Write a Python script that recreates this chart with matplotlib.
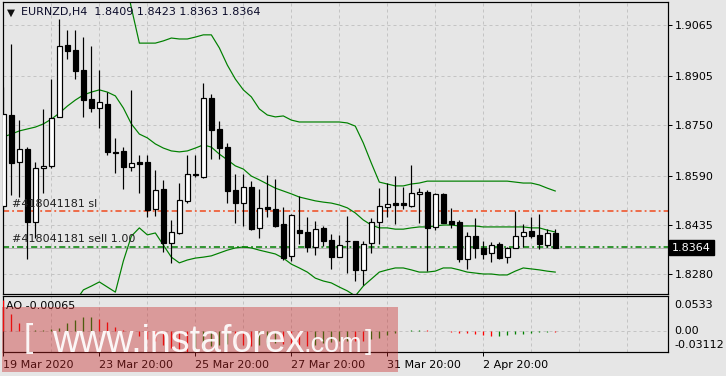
import matplotlib
matplotlib.use("Agg")
import matplotlib.pyplot as plt
from matplotlib.patches import Rectangle
import numpy as np

# EURNZD H4 candles
opens = [1.8495, 1.8781, 1.8633, 1.8674, 1.8445, 1.8614, 1.8621, 1.8775, 1.9001, 1.8985,
         1.8923, 1.8831, 1.8803, 1.8816, 1.8665, 1.8668, 1.8617, 1.8633, 1.8633, 1.8485,
         1.8548, 1.8379, 1.8410, 1.8511, 1.8596, 1.8586, 1.8835, 1.8737, 1.8680, 1.8545,
         1.8504, 1.8555, 1.8426, 1.8492, 1.8485, 1.8438, 1.8338, 1.8419, 1.8413, 1.8366,
         1.8426, 1.8388, 1.8334, 1.8385, 1.8385, 1.8294, 1.8379, 1.8445, 1.8492, 1.8504,
         1.8504, 1.8495, 1.8533, 1.8539, 1.8429, 1.8533, 1.8448, 1.8445, 1.8328, 1.8400,
         1.8363, 1.8347, 1.8375, 1.8334, 1.8363, 1.8400, 1.8416, 1.8404, 1.8372, 1.8409]
highs = [1.8869, 1.9004, 1.8765, 1.8680, 1.8633, 1.8800, 1.8894, 1.9083, 1.9048, 1.9048,
         1.9026, 1.8998, 1.8923, 1.8853, 1.8709, 1.8680, 1.8860, 1.8655, 1.8655, 1.8608,
         1.8577, 1.8451, 1.8567, 1.8655, 1.8655, 1.8882, 1.8847, 1.8762, 1.8693, 1.8596,
         1.8596, 1.8573, 1.8548, 1.8592, 1.8580, 1.8492, 1.8470, 1.8526, 1.8460, 1.8448,
         1.8432, 1.8407, 1.8404, 1.8463, 1.8386, 1.8385, 1.8457, 1.8551, 1.8567, 1.8589,
         1.8555, 1.8624, 1.8551, 1.8545, 1.8535, 1.8535, 1.8489, 1.8451, 1.8413, 1.8457,
         1.8385, 1.8382, 1.8382, 1.8366, 1.8479, 1.8438, 1.8460, 1.8470, 1.8422, 1.8423]
lows = [1.8482, 1.8529, 1.8523, 1.8328, 1.8394, 1.8536, 1.8614, 1.8775, 1.8957, 1.8894,
        1.8775, 1.8790, 1.8740, 1.8655, 1.8599, 1.8548, 1.8605, 1.8536, 1.8460, 1.8463,
        1.8350, 1.8316, 1.8407, 1.8504, 1.8586, 1.8583, 1.8643, 1.8643, 1.8504, 1.8441,
        1.8432, 1.8419, 1.8394, 1.8460, 1.8430, 1.8325, 1.8322, 1.8375, 1.8350, 1.8341,
        1.8369, 1.8297, 1.8334, 1.8284, 1.8259, 1.8246, 1.8347, 1.8375, 1.8460, 1.8438,
        1.8485, 1.8492, 1.8441, 1.8290, 1.8419, 1.8440, 1.8426, 1.8319, 1.8297, 1.8331,
        1.8328, 1.8319, 1.8328, 1.8316, 1.8363, 1.8366, 1.8394, 1.8360, 1.8366, 1.8363]
closes = [1.8784, 1.8630, 1.8674, 1.8445, 1.8614, 1.8621, 1.8772, 1.8998, 1.8982, 1.8919,
          1.8828, 1.8803, 1.8822, 1.8665, 1.8663, 1.8617, 1.8630, 1.8627, 1.8482, 1.8545,
          1.8379, 1.8413, 1.8514, 1.8596, 1.8592, 1.8835, 1.8734, 1.8677, 1.8542, 1.8504,
          1.8555, 1.8422, 1.8489, 1.8485, 1.8432, 1.8331, 1.8466, 1.8410, 1.8366, 1.8422,
          1.8385, 1.8334, 1.8372, 1.8384, 1.8294, 1.8375, 1.8445, 1.8495, 1.8501, 1.8498,
          1.8498, 1.8536, 1.8539, 1.8426, 1.8533, 1.8441, 1.8438, 1.8328, 1.8400, 1.8363,
          1.8344, 1.8372, 1.8331, 1.8363, 1.8400, 1.8413, 1.8400, 1.8375, 1.8410, 1.8364]

# Bollinger bands as drawn (upper band starts at candle 15, above the window before that)
bb_upper_start = 15
bb_upper = [1.9237, 1.9118, 1.9007, 1.9007, 1.9007, 1.9014, 1.9023, 1.9020, 1.9020, 1.9026,
            1.9033, 1.9033, 1.8992, 1.8938, 1.8894, 1.8860, 1.8838, 1.8800, 1.8781, 1.8775,
            1.8778, 1.8765, 1.8759, 1.8759, 1.8759, 1.8759, 1.8759, 1.8759, 1.8756, 1.8746,
            1.8693, 1.8630, 1.8570, 1.8564, 1.8558, 1.8558, 1.8564, 1.8567, 1.8573, 1.8573,
            1.8573, 1.8573, 1.8573, 1.8573, 1.8573, 1.8573, 1.8573, 1.8573, 1.8573, 1.8570,
            1.8567, 1.8567, 1.8561, 1.8551, 1.8542]
bb_middle = [1.8712, 1.8721, 1.8731, 1.8737, 1.8743, 1.8753, 1.8768, 1.8787, 1.8809, 1.8828,
             1.8844, 1.8853, 1.8860, 1.8853, 1.8841, 1.8803, 1.8753, 1.8721, 1.8709, 1.8690,
             1.8677, 1.8668, 1.8665, 1.8668, 1.8677, 1.8687, 1.8680, 1.8658, 1.8640, 1.8621,
             1.8611, 1.8589, 1.8577, 1.8564, 1.8551, 1.8542, 1.8533, 1.8523, 1.8517, 1.8511,
             1.8507, 1.8504, 1.8498, 1.8489, 1.8473, 1.8451, 1.8435, 1.8426, 1.8426, 1.8422,
             1.8422, 1.8426, 1.8429, 1.8429, 1.8432, 1.8435, 1.8435, 1.8432, 1.8432, 1.8432,
             1.8429, 1.8429, 1.8429, 1.8429, 1.8429, 1.8429, 1.8426, 1.8426, 1.8419, 1.8413]
bb_lower = [1.8120, 1.8110, 1.8100, 1.8095, 1.8090, 1.8095, 1.8110, 1.8130, 1.8160, 1.8195,
            1.8231, 1.8243, 1.8256, 1.8240, 1.8224, 1.8322, 1.8400, 1.8426, 1.8404, 1.8410,
            1.8372, 1.8334, 1.8316, 1.8325, 1.8331, 1.8334, 1.8338, 1.8347, 1.8356, 1.8363,
            1.8366, 1.8363, 1.8356, 1.8350, 1.8344, 1.8331, 1.8312, 1.8300, 1.8287, 1.8268,
            1.8259, 1.8253, 1.8240, 1.8228, 1.8212, 1.8243, 1.8265, 1.8287, 1.8294, 1.8300,
            1.8300, 1.8294, 1.8287, 1.8287, 1.8290, 1.8300, 1.8300, 1.8294, 1.8287, 1.8284,
            1.8281, 1.8281, 1.8278, 1.8278, 1.8290, 1.8300, 1.8297, 1.8294, 1.8290, 1.8287]

# Awesome Oscillator
ao = [0.0470, 0.0262, 0.0127, 0.0015, 0.0020, 0.0025, 0.0035, 0.0045, 0.0127, 0.0172,
      0.0217, 0.0222, 0.0187, 0.0142, 0.0070, 0.0020, -0.0030, -0.0070, -0.0110, -0.0150,
      -0.0200, -0.0250, -0.0290, -0.0311, -0.0300, -0.0260, -0.0220, -0.0200, -0.0190, -0.0195,
      -0.0210, -0.0220, -0.0210, -0.0190, -0.0180, -0.0190, -0.0200, -0.0210, -0.0220, -0.0200,
      -0.0180, -0.0160, -0.0150, -0.0140, -0.0145, -0.0150, -0.0110, -0.0095, -0.0060, -0.0030,
      0.0008, 0.0015, 0.0022, 0.0016, 0.0010, 0.0004, -0.0004, -0.0020, -0.0030, -0.0040,
      -0.0058, -0.0075, -0.0072, -0.0058, -0.0045, -0.0033, -0.0020, -0.0008, -0.0005, -0.00065]
ao_max, ao_min = 0.0533, -0.03112

price_ticks = [1.8280, 1.8435, 1.8590, 1.8750, 1.8905, 1.9065]
date_pos = [0, 12, 24, 36, 48, 60]
date_labels = ["19 Mar 2020", "23 Mar 20:00", "25 Mar 20:00",
               "27 Mar 20:00", "31 Mar 20:00", "2 Apr 20:00"]
sl_price = 1.8478
entry_price = 1.8367
bid_price = 1.8364
header = "EURNZD,H4  1.8409 1.8423 1.8363 1.8364"

BG = "#e6e6e6"
GRID = "#c4c4c4"
GREEN = "#008000"
PX = 0.72  # one pixel in points at dpi 100

W, H = 726, 376
fig = plt.figure(figsize=(W / 100, H / 100), dpi=100, facecolor=BG)
plt.rcParams["font.family"] = ["DejaVu Sans"]


def box(l, t, r, b):
    return [l / W, 1 - b / H, (r - l) / W, (b - t) / H]


ax = fig.add_axes(box(3, 2, 668, 294))
ax2 = fig.add_axes(box(3, 296, 668, 352))
xlim = (-0.05, 83.1)

# ---- main price panel ----
ax.set_facecolor(BG)
ax.set_xlim(*xlim)
ax.set_ylim(1.82181, 1.91363)
ax.set_axisbelow(True)
x = np.arange(len(opens))
o, h, l, c = map(np.array, (opens, highs, lows, closes))

ax.plot(np.arange(bb_upper_start, bb_upper_start + len(bb_upper)), bb_upper, color=GREEN, lw=PX * 1.2, zorder=2)
ax.plot(x, bb_middle, color=GREEN, lw=PX * 1.2, zorder=2)
ax.plot(x, bb_lower, color=GREEN, lw=PX * 1.2, zorder=2)

ax.axhline(bid_price, color="#b4b4b4", lw=PX, zorder=1.5)
ax.axhline(sl_price, color="#f04a1e", lw=1.1, dashes=(4, 2, 1.2, 2), zorder=1.6)
ax.axhline(entry_price, color=GREEN, lw=1.1, dashes=(4, 2, 1.2, 2), zorder=1.6)

ax.vlines(x, l, h, color="black", lw=PX * 1.2, zorder=3)
bull = c >= o
ax.bar(x, np.abs(c - o), bottom=np.minimum(o, c), width=0.6,
       color=np.where(bull, "white", "black"), edgecolor="black", linewidth=PX * 1.2, zorder=4)

ax.yaxis.tick_right()
ax.set_yticks(price_ticks)
ax.set_yticklabels([f"{v:.4f}" for v in price_ticks])
ax.tick_params(axis="y", direction="out", length=3, width=PX, pad=2, labelsize=8)
ax.set_xticks(np.arange(6, 84, 6))
ax.tick_params(axis="x", length=0, labelbottom=False)
ax.grid(True, color=GRID, lw=PX, dashes=(3, 3))
for s in ax.spines.values():
    s.set_linewidth(PX * 1.2)

ax.annotate(f"{bid_price:.4f}", xy=(1, bid_price), xycoords=("axes fraction", "data"),
            xytext=(3, 0), textcoords="offset points", va="center", ha="left",
            color="white", fontsize=8,
            bbox=dict(boxstyle="square,pad=0.25", fc="black", ec="black"))

fig.text(11 / W, 1 - 13 / H, "\u25bc", fontsize=7.5, ha="center", va="center", color="#101010")
fig.text(21 / W, 1 - 12.5 / H, header, fontsize=8, ha="left", va="center", color="#0a0a28")
fig.text(12 / W, 1 - 204 / H, "#418041181 sl", fontsize=8, ha="left", va="center", color="#202020")
fig.text(12 / W, 1 - 239 / H, "#418041181 sell 1.00", fontsize=8, ha="left", va="center", color="#202020")

# ---- AO panel ----
ax2.set_facecolor(BG)
ax2.set_xlim(*xlim)
ax2.set_ylim(ao_min, ao_max)
ax2.set_axisbelow(True)
ao_arr = np.array(ao)
rising = np.r_[False, ao_arr[1:] > ao_arr[:-1]]
ax2.vlines(x, 0, ao_arr, colors=np.where(rising, GREEN, "#ff0000"), lw=PX * 1.3, zorder=3)
ax2.axhline(0, color=GRID, lw=PX, dashes=(3, 3), zorder=1)

ax2.set_xticks(date_pos)
ax2.set_xticklabels(date_labels)
ax2.set_xticks(np.arange(6, 84, 6), minor=True)
ax2.tick_params(axis="x", which="major", length=3, width=PX, pad=2.5, labelsize=8)
ax2.tick_params(axis="x", which="minor", length=0)
for lbl in ax2.get_xticklabels():
    lbl.set_ha("left")
ax2.grid(True, axis="x", which="both", color=GRID, lw=PX, dashes=(3, 3))
ax2.set_yticks([])
for s in ax2.spines.values():
    s.set_linewidth(PX * 1.2)

for val, txt, dy in [(ao_max, "0.0533", -6.5), (0.0, "0.00", 0), (ao_min, "-0.03112", 5)]:
    ax2.annotate(txt, xy=(1, val), xycoords=("axes fraction", "data"), xytext=(4.5, dy),
                 textcoords="offset points", va="center", ha="left", fontsize=8, annotation_clip=False)
fig.text(6 / W, 1 - 306 / H, f"AO {ao[-1]:.5f}", fontsize=8, ha="left", va="center")

# ---- watermark ----
fig.add_artist(Rectangle((2 / W, 1 - 372 / H), 396 / W, 65 / H, transform=fig.transFigure,
                         facecolor="#c82828", alpha=0.4, edgecolor="none", zorder=5))
wm = dict(color="white", alpha=0.92, family="Liberation Sans", va="baseline", ha="left", zorder=6)
fig.text(24 / W, 1 - 347 / H, "[", fontsize=24, **wm)
fig.text(52 / W, 1 - 352 / H, "www.instaforex", fontsize=27, **wm)
fig.text(303 / W, 1 - 352 / H, ".com", fontsize=19.5, **wm)
fig.text(365 / W, 1 - 349 / H, "]", fontsize=20, **wm)

fig.savefig("out.png", dpi=100, facecolor=BG)
